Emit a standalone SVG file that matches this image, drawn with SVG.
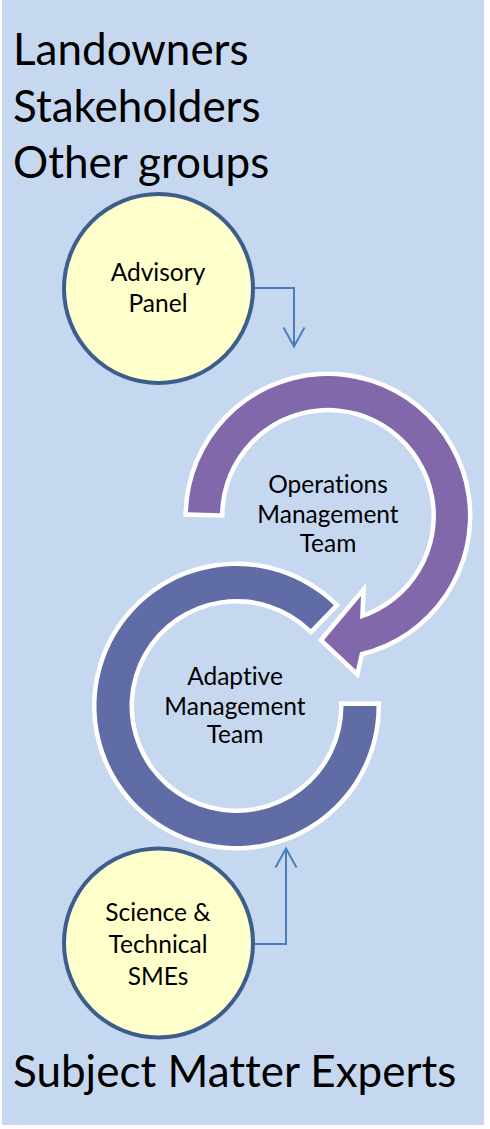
<svg xmlns="http://www.w3.org/2000/svg" width="490" height="1129" viewBox="0 0 490 1129">
  <style>
    .big { font-family: Lato, "Liberation Sans", sans-serif; font-size: 44px; fill: #000; font-variant-ligatures: none; }
    .lbl { font-family: Lato, "Liberation Sans", sans-serif; font-size: 24.5px; fill: #000; text-anchor: middle; font-variant-ligatures: none; }
    .node { fill: #ffffcc; stroke: #3b5e8c; stroke-width: 4; }
    .band { stroke: #ffffff; stroke-width: 9; stroke-linejoin: miter; paint-order: stroke; }
    .conn { fill: none; stroke: #4a7ebb; stroke-width: 2; }
  </style>
  <defs>
    <marker id="arr" markerUnits="userSpaceOnUse" markerWidth="26" markerHeight="26" viewBox="0 0 26 26" refX="22" refY="13" orient="auto">
      <path d="M3,2.5 L22,13 L3,23.5" fill="none" stroke="#4a7ebb" stroke-width="2"/>
    </marker>
  </defs>
  <rect id="background" x="2" y="0" width="482" height="1125" fill="#c6d8ef"/>
  <g id="title-top">
    <text class="big" x="13" y="65">Landowners</text>
    <text class="big" x="13" y="122">Stakeholders</text>
    <text class="big" x="13" y="178">Other groups</text>
  </g>
  <g id="title-bottom">
    <text class="big" x="13" y="1087">Subject Matter Experts</text>
  </g>
  <g id="adaptive">
    <path class="band" fill="#5f6ca6" d="M376.5,706 A140,140 0 1 1 333.8,605.3 L310.8,629 A107,107 0 1 0 343.5,706 Z"/>
    <text class="lbl" x="235" y="685">Adaptive</text>
    <text class="lbl" x="235" y="715">Management</text>
    <text class="lbl" x="235" y="743">Team</text>
  </g>
  <g id="operations">
    <path class="band" fill="#8068ab" d="M188,512.3 A140,140 0 1 1 360,652.3 L356,670 L324,640 L361,596 L360,619 A108,108 0 1 0 220,513.2 Z"/>
    <text class="lbl" x="328" y="493">Operations</text>
    <text class="lbl" x="328" y="523">Management</text>
    <text class="lbl" x="328" y="552">Team</text>
  </g>
  <g id="advisory">
    <circle class="node" cx="158.5" cy="288.5" r="94.5"/>
    <text class="lbl" x="158" y="281">Advisory</text>
    <text class="lbl" x="158" y="312">Panel</text>
  </g>
  <g id="science">
    <circle class="node" cx="158.5" cy="943" r="94.5"/>
    <text class="lbl" x="158" y="921">Science &amp;</text>
    <text class="lbl" x="158" y="953">Technical</text>
    <text class="lbl" x="158" y="985">SMEs</text>
  </g>
  <g id="connectors">
    <path class="conn" d="M255,288 H294 V346.5" marker-end="url(#arr)"/>
    <path class="conn" d="M255,944 H286 V848.5" marker-end="url(#arr)"/>
  </g>
</svg>
